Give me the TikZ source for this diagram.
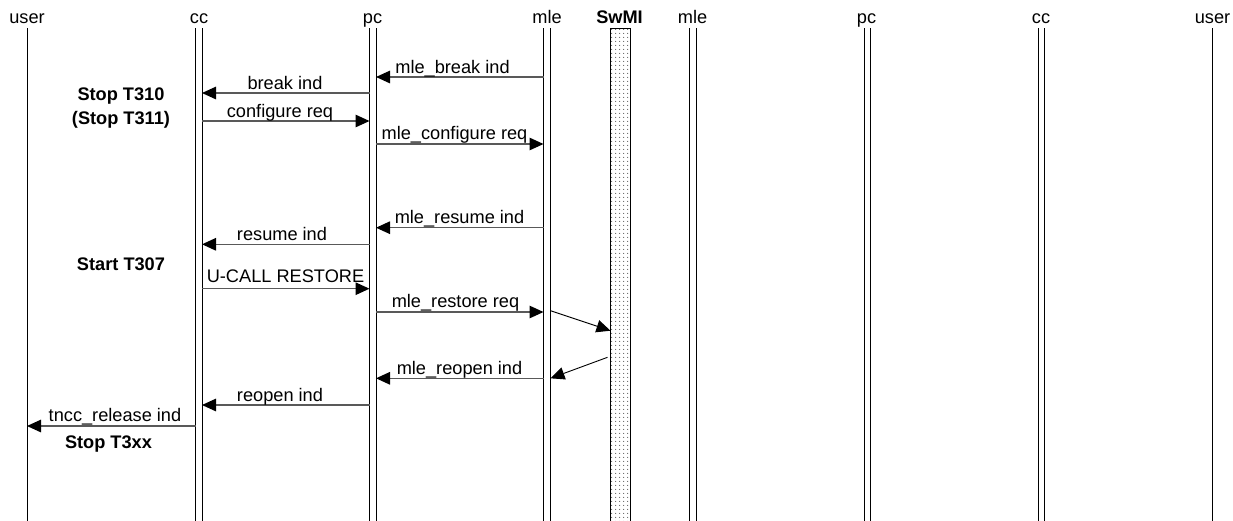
\documentclass[tikz,border=0pt]{standalone}
\usepackage{fontspec}
\setmainfont{Liberation Sans}
\usetikzlibrary{arrows.meta,patterns.meta}
\begin{document}
\begin{tikzpicture}[x=1pt,y=-1pt,
  lifeline/.style={line width=0.9pt, black},
  tip/.style={-{Triangle[length=14pt,width=12.5pt,color=black]}},
  msg/.style={tip, line width=1.3pt, black!65},
  diag/.style={tip, line width=0.9pt, black},
  lbl/.style={anchor=base, inner sep=0pt, font=\fontsize{18.2}{20}\selectfont},
  blbl/.style={anchor=base, inner sep=0pt, font=\fontsize{18.2}{20}\selectfont\bfseries},
]
\useasboundingbox (0,0) rectangle (1233,520);

% headers
\node[lbl] (h-user1) at (27,23) {user};
\node[lbl] (h-cc1) at (199,23) {cc};
\node[lbl] (h-pc1) at (372.5,23) {pc};
\node[lbl] (h-mle1) at (547,23) {mle};
\node[blbl] (h-swmi) at (619.5,23) {SwMI};
\node[lbl] (h-mle2) at (692.5,23) {mle};
\node[lbl] (h-pc2) at (866.5,23) {pc};
\node[lbl] (h-cc2) at (1041,23) {cc};
\node[lbl] (h-user2) at (1212.5,23) {user};

% lifelines
\foreach \n/\x in {user1/27, cc1a/195.5, cc1b/202, pc1a/369.5, pc1b/376,
  mle1a/543.5, mle1b/550.5, mle2a/689.5, mle2b/696, pc2a/864.5, pc2b/870.5,
  cc2a/1038, cc2b/1044, user2/1212.5} {
  \coordinate (\n) at (\x,28);
  \coordinate (\n-bot) at (\x,521);
  \draw[lifeline] (\n) -- (\n-bot);
}

% SwMI box
\coordinate (swL) at (610.5,28);
\coordinate (swR) at (630,521);
\fill[white] (swL) rectangle (swR);
\fill[pattern={Dots[distance=4pt,radius=0.6pt]}, pattern color=black!85] (swL) rectangle (swR);
\draw[line width=0.9pt] (swL) rectangle (swR);

% messages
\draw[msg] (mle1a |- 0,77) -- (pc1b |- 0,77);
\node[lbl] (l1) at (452.5,73) {mle\_break ind};

\draw[msg] (pc1a |- 0,93) -- (cc1b |- 0,93);
\node[lbl] (l2) at (285,89) {break ind};

\draw[msg] (cc1b |- 0,121) -- (pc1a |- 0,121);
\node[lbl] (l3) at (280,117.2) {configure req};

\draw[msg] (pc1b |- 0,144) -- (mle1a |- 0,144);
\node[lbl] (l4) at (454.5,139.5) {mle\_configure req};

\draw[msg] (mle1a |- 0,227.7) -- (pc1b |- 0,227.7);
\node[lbl] (l5) at (459.5,223.7) {mle\_resume ind};

\draw[msg] (pc1a |- 0,244.3) -- (cc1b |- 0,244.3);
\node[lbl] (l6) at (282,240.3) {resume ind};

\draw[msg] (cc1b |- 0,288.7) -- (pc1a |- 0,288.7);
\node[lbl] (l7) at (285.5,282.5) {U-CALL RESTORE};

\draw[msg] (pc1b |- 0,312) -- (mle1a |- 0,312);
\node[lbl] (l8) at (455.5,307.5) {mle\_restore req};

\draw[diag] (mle1b |- 0,310.7) -- (swL |- 0,330.7);
\draw[diag] ([xshift=-3pt]swL |- 0,357.3) -- (mle1b |- 0,378.3);

\draw[msg] (mle1a |- 0,378.3) -- (pc1b |- 0,378.3);
\node[lbl] (l9) at (459.5,374) {mle\_reopen ind};

\draw[msg] (pc1a |- 0,405) -- (cc1b |- 0,405);
\node[lbl] (l10) at (280,401.5) {reopen ind};

\draw[msg] (cc1a |- 0,426) -- (user1 |- 0,426);
\node[lbl] (l11) at (115,421) {tncc\_release ind};

% timer notes
\node[blbl] (t1) at (121,100) {Stop T310};
\node[blbl] (t2) at (121,124.5) {(Stop T311)};
\node[blbl] (t3) at (121,270) {Start T307};
\node[blbl] (t4) at (108.5,448) {Stop T3xx};
\end{tikzpicture}
\end{document}
